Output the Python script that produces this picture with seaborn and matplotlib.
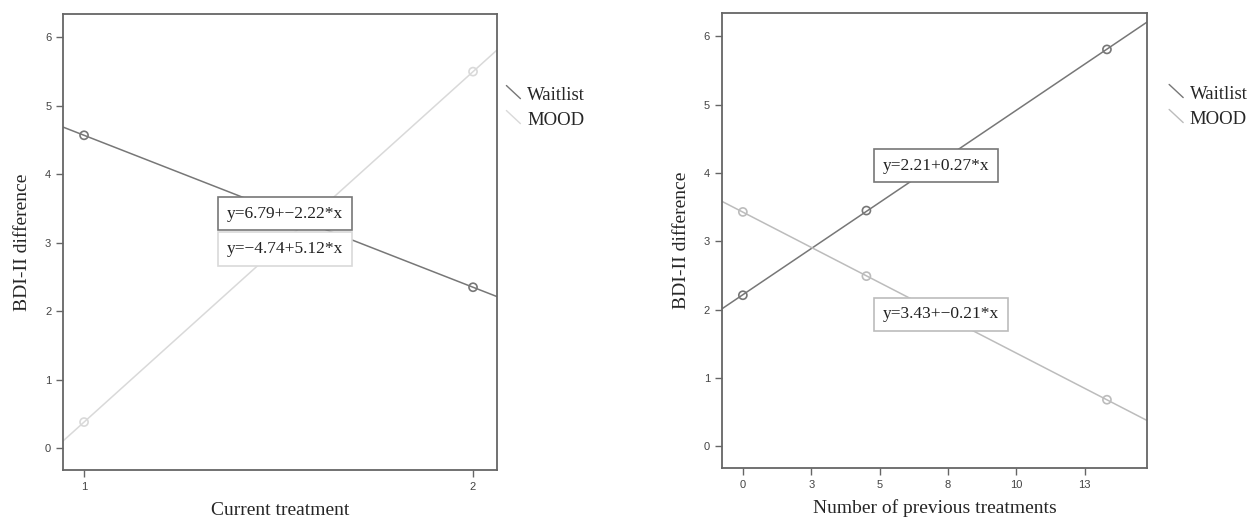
import numpy as np
import pandas as pd
import matplotlib
matplotlib.use("Agg")
import matplotlib.pyplot as plt
from matplotlib.lines import Line2D
from matplotlib.legend_handler import HandlerBase
import seaborn as sns

# Dữ liệu
groups = ["Waitlist", "MOOD"]

cur_x = [1, 2]
cur_waitlist = [4.57, 2.35]
cur_mood = [0.38, 5.50]
cur_eq = ["y=6.79+\u22122.22*x", "y=\u22124.74+5.12*x"]
cur_ticks = [1, 2]

prev_x = [0, 4.7, 13.85]
prev_waitlist = [2.21, 3.45, 5.81]
prev_mood = [3.43, 2.49, 0.68]
prev_eq = ["y=2.21+0.27*x", "y=3.43+\u22120.21*x"]
prev_ticks = [0, 2.6, 5.2, 7.8, 10.4, 13.0]
prev_ticklabels = ["0", "3", "5", "8", "10", "13"]

sns.set_style("white")
plt.rcParams["font.family"] = ["Liberation Serif", "DejaVu Serif"]

dark = "#777777"
spine_col = "#666666"


class DiagHandler(HandlerBase):
    # đoạn thẳng chéo trong chú thích
    def create_artists(self, legend, orig_handle, xdescent, ydescent,
                       width, height, fontsize, trans):
        ln = Line2D([0, width], [height * 1.1, height * 0.1],
                    color=orig_handle.get_color(),
                    lw=orig_handle.get_linewidth(), transform=trans)
        return [ln]


def draw_panel(ax, x, ys, colors, xlim, ylim, eqs, eq_pos, xlabel, leg_x,
               ticks, ticklabels):
    ax.set_xlim(xlim)
    ax.set_ylim(ylim)
    for name, y, c in zip(groups, ys, colors):
        df = pd.DataFrame({"x": x, "y": y})
        sns.regplot(data=df, x="x", y="y", ax=ax, ci=None, truncate=False,
                    color=c, marker="o",
                    scatter_kws={"facecolors": "none", "s": 34,
                                 "linewidths": 1.2, "alpha": 1, "zorder": 3},
                    line_kws={"lw": 1.1})
    ax.set_xlim(xlim)
    ax.set_ylim(ylim)
    ax.set_xlabel(xlabel, fontsize=14, labelpad=7)
    ax.set_ylabel("BDI-II difference", fontsize=14, labelpad=10)
    ax.set_yticks(range(0, 7))
    ax.set_xticks(ticks)
    ax.set_xticklabels(ticklabels)
    ax.tick_params(axis="both", direction="out", length=5, width=1,
                   color=spine_col, labelsize=8, labelcolor="#444444",
                   left=True, bottom=True)
    for lab in ax.get_xticklabels() + ax.get_yticklabels():
        lab.set_family(["Liberation Sans", "DejaVu Sans"])
    for s in ax.spines.values():
        s.set_color(spine_col)
        s.set_linewidth(1.3)

    for (txt, c), (px, py) in zip(zip(eqs, colors), eq_pos):
        ax.text(px, py, txt, transform=ax.transAxes, fontsize=12.5,
                ha="left", va="center", color="#222222",
                bbox=dict(boxstyle="square,pad=0.5", fc="white", ec=c, lw=1.2))

    handles = [Line2D([], [], color=c, lw=1.0) for c in colors]
    ax.legend(handles, groups, loc="upper left", bbox_to_anchor=(leg_x, 0.857),
              frameon=False, borderaxespad=0, fontsize=13.5,
              handlelength=0.75, handletextpad=0.35, labelspacing=0.42,
              handler_map={Line2D: DiagHandler()})


fig = plt.figure(figsize=(12.51, 5.18), dpi=100)
ax1 = fig.add_axes([0.0504, 0.0927, 0.347, 0.880])
ax2 = fig.add_axes([0.577, 0.0965, 0.340, 0.878])

draw_panel(ax1, cur_x, [cur_waitlist, cur_mood], [dark, "#d9d9d9"],
           (0.946, 2.062), (-0.32, 6.34), cur_eq,
           [(0.378, 0.5625), (0.378, 0.485)], "Current treatment", 1.004,
           cur_ticks, [str(t) for t in cur_ticks])

draw_panel(ax2, prev_x, [prev_waitlist, prev_mood], [dark, "#bcbcbc"],
           (-0.8, 15.38), (-0.32, 6.34), prev_eq,
           [(0.379, 0.665), (0.379, 0.338)], "Number of previous treatments", 1.034,
           prev_ticks, prev_ticklabels)

fig.savefig("out.png", dpi=100)
